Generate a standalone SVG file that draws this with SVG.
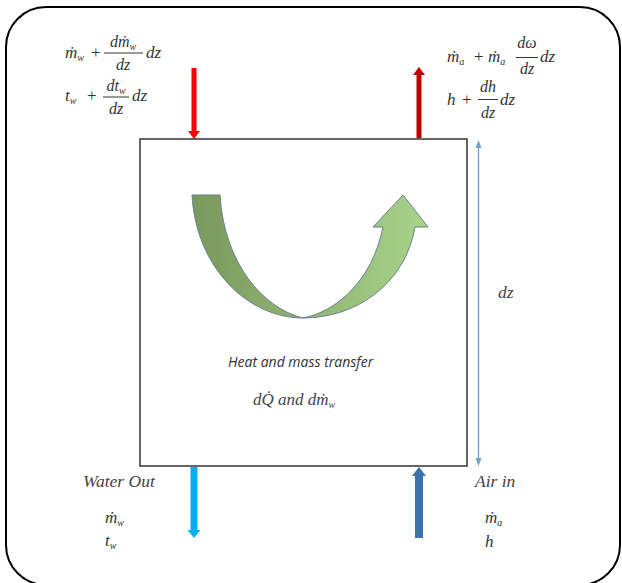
<svg xmlns="http://www.w3.org/2000/svg" width="622" height="583" viewBox="0 0 622 583">
<defs>
<style>
.m{font-family:"Liberation Serif","DejaVu Serif",serif;font-style:italic;font-size:17px;fill:#333}
.f{font-family:"Liberation Serif","DejaVu Serif",serif;font-style:italic;font-size:16px;fill:#333}
.s{font-size:10px}
.op{font-style:normal}
.fl{stroke:#333;stroke-width:1}
.lbl{font-family:"Liberation Serif","DejaVu Serif",serif;font-style:italic;font-size:17.5px;fill:#444}
.hm{font-family:"Open Sans","Noto Sans",sans-serif;font-style:italic;font-size:14px;fill:#333}
.cq{font-family:"Liberation Serif","DejaVu Serif",serif;font-style:italic;font-size:17px;fill:#444}
</style>
<linearGradient id="g" x1="0" y1="0" x2="1" y2="0">
<stop offset="0" stop-color="#79985c"/>
<stop offset="1" stop-color="#a9d48b"/>
</linearGradient>
<marker id="dh" markerWidth="8" markerHeight="8" refX="4" refY="4" orient="auto-start-reverse" markerUnits="userSpaceOnUse">
<path d="M0,1 L8,4 L0,7 Z" fill="#6fa0d0"/>
</marker>
</defs>
<rect id="frame" x="6" y="7" width="614" height="578" rx="40" ry="40" fill="#fff" stroke="#000" stroke-width="2"/>
<g id="box"><rect x="140" y="139" width="327" height="327" fill="#fff" stroke="#404040" stroke-width="1.6"/></g>
<g id="flow-arrow">
<path d="M192,195 L220,195 C224,262 262,308 303,318 C335,312 372,282 383,227 L373,227 L403,195 L428,227 L415,227 C405,285 355,318 303,318 C248,318 196,268 192,195 Z" fill="url(#g)" stroke="#6b7f8f" stroke-width="1"/>
</g>
<g id="connectors">
<path d="M191.5,68 L196.5,68 L196.5,131 L200,131 L194,139 L188,131 L191.5,131 Z" fill="#ff0000"/>
<path d="M416.5,138 L421.5,138 L421.5,75 L425,75 L419,67 L413,75 L416.5,75 Z" fill="#c00000"/>
<path d="M190.5,467 L197.5,467 L197.5,530 L200.5,530 L194,538 L187.5,530 L190.5,530 Z" fill="#00b0f0"/>
<path d="M415,538 L423,538 L423,476 L426,476 L419,467 L412,476 L415,476 Z" fill="#3a72ae"/>
<line x1="478.5" y1="144" x2="478.5" y2="462" stroke="#6fa0d0" stroke-width="1.3" marker-start="url(#dh)" marker-end="url(#dh)"/>
</g>
<g id="top-left-labels">
<text class="m" x="65" y="58">ṁ<tspan class="s" dy="3">w</tspan><tspan class="op" dy="-3" x="91">+</tspan></text>
<text class="f" x="123" y="47" text-anchor="middle">dṁ<tspan class="s" dy="3">w</tspan></text>
<line class="fl" x1="104" y1="53" x2="143" y2="53"/>
<text class="f" x="123" y="70" text-anchor="middle">dz</text>
<text class="m" x="146" y="58">dz</text>
<text class="m" x="65" y="101">t<tspan class="s" dy="3">w</tspan><tspan class="op" dy="-3" x="87">+</tspan></text>
<text class="f" x="116" y="91" text-anchor="middle">dt<tspan class="s" dy="3">w</tspan></text>
<line class="fl" x1="103" y1="97" x2="129" y2="97"/>
<text class="f" x="116" y="114" text-anchor="middle">dz</text>
<text class="m" x="132" y="101">dz</text>
</g>
<g id="top-right-labels">
<text class="m" x="447" y="62">ṁ<tspan class="s" dy="3">a</tspan><tspan class="op" dy="-3" x="474">+</tspan><tspan x="488">ṁ</tspan><tspan class="s" dy="3">a</tspan></text>
<text class="f" x="527" y="48" text-anchor="middle">dω</text>
<line class="fl" x1="516" y1="57.5" x2="538" y2="57.5"/>
<text class="f" x="527" y="74" text-anchor="middle">dz</text>
<text class="m" x="540" y="62">dz</text>
<text class="m" x="447" y="105">h<tspan class="op" x="462">+</tspan></text>
<text class="f" x="488" y="92" text-anchor="middle">dh</text>
<line class="fl" x1="478" y1="99.5" x2="498" y2="99.5"/>
<text class="f" x="488" y="118" text-anchor="middle">dz</text>
<text class="m" x="500" y="105">dz</text>
</g>
<g id="dz-label"><text class="lbl" x="498" y="298">dz</text></g>
<g id="center-labels">
<text class="hm" x="228" y="367">Heat and mass transfer</text>
<text class="cq" x="253" y="405">dQ̇ and dṁ<tspan class="s" dy="3">w</tspan></text>
</g>
<g id="water-out">
<text class="lbl" x="83" y="487">Water Out</text>
<text class="m" x="105" y="523">ṁ<tspan class="s" dy="3">w</tspan></text>
<text class="m" x="105" y="546">t<tspan class="s" dy="3">w</tspan></text>
</g>
<g id="air-in">
<text class="lbl" x="475" y="487">Air in</text>
<text class="m" x="485" y="523">ṁ<tspan class="s" dy="3">a</tspan></text>
<text class="m" x="485" y="547">h</text>
</g>
</svg>
